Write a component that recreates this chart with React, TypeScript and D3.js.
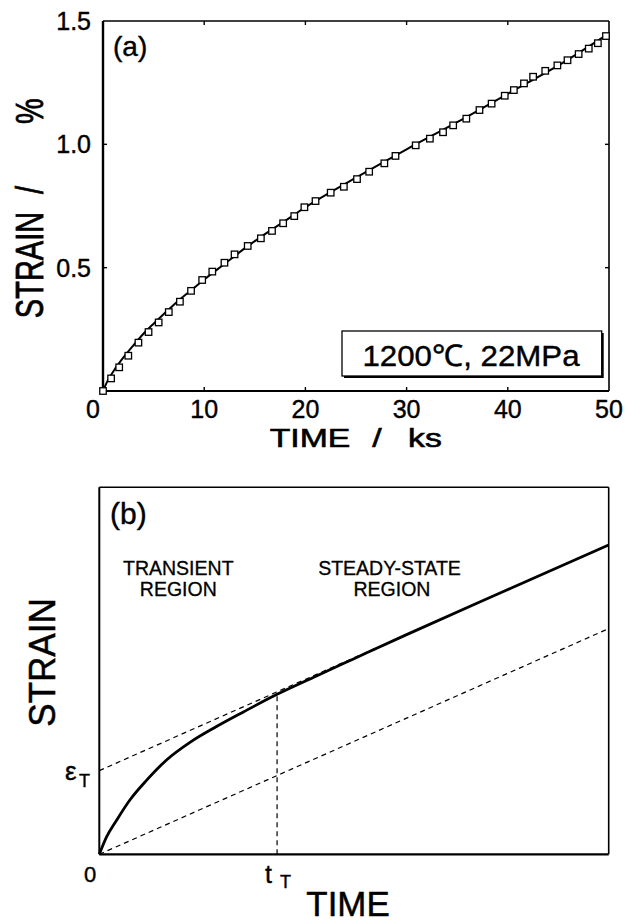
import * as d3 from "d3";

// panel (a) measured creep data, time in ks, strain in %
const timeA = [0, 0.8, 1.6, 2.5, 3.5, 4.5, 5.5, 6.5, 7.6, 8.7, 9.8, 10.8, 12.0, 13.0, 14.3, 15.6, 16.7, 17.8, 18.9, 19.9, 21.0, 22.5, 23.8, 25.1, 26.3, 27.8, 28.9, 30.9, 32.3, 33.6, 34.6, 35.9, 37.2, 38.4, 39.7, 40.6, 41.6, 42.5, 43.7, 44.9, 45.9, 47.0, 48.0, 48.9, 49.7];
const strainA = [0, 0.051, 0.096, 0.143, 0.196, 0.239, 0.278, 0.32, 0.362, 0.406, 0.45, 0.484, 0.52, 0.554, 0.588, 0.619, 0.649, 0.68, 0.709, 0.745, 0.77, 0.804, 0.828, 0.859, 0.889, 0.923, 0.953, 0.996, 1.023, 1.049, 1.077, 1.104, 1.139, 1.165, 1.197, 1.22, 1.247, 1.274, 1.298, 1.32, 1.341, 1.366, 1.388, 1.41, 1.439];

// panel (a) fitted curve
const fitT = [0, 0.5, 1, 2, 3, 4, 5, 6, 7, 8, 9, 10, 12, 14, 16, 18, 20, 25, 30, 35, 40, 45, 50];
const fitS = [0, 0.045, 0.078, 0.135, 0.185, 0.232, 0.273, 0.312, 0.35, 0.385, 0.418, 0.452, 0.515, 0.578, 0.636, 0.69, 0.745, 0.865, 0.98, 1.09, 1.205, 1.32, 1.45];

const xTicksA = [0, 10, 20, 30, 40, 50];
const yTicksA = [0.5, 1.0, 1.5];

// panel (b) schematic, arbitrary units
const curveBT = [0, 0.0145, 0.034, 0.06, 0.093, 0.132, 0.178, 0.23, 0.283, 0.349, 0.42, 0.5, 0.6, 0.8, 1.0];
const curveBS = [0, 0.048, 0.093, 0.148, 0.202, 0.257, 0.305, 0.348, 0.388, 0.436, 0.482, 0.533, 0.5965, 0.72, 0.843];
const epsT = 0.228;
const rateSS = 0.615;
const tT = 0.349;

const font = "'Liberation Sans', Arial, Helvetica, sans-serif";

export default function App() {
  const W = 636, H = 924;

  // (a) scales
  const xa = d3.scaleLinear([0, 50], [103, 609]);
  const ya = d3.scaleLinear([0, 1.5], [391, 21]);
  const lineA = d3.line<number>((d, i) => xa(fitT[i]), (d) => ya(d)).curve(d3.curveMonotoneX);

  // (b) scales
  const xb = d3.scaleLinear([0, 1], [99.3, 608.7]);
  const yb = d3.scaleLinear([0, 1], [854.3, 487.3]);
  const lineB = d3.line<number>((d, i) => xb(curveBT[i]), (d) => yb(d)).curve(d3.curveMonotoneX);
  const upperEnd = 0.55;
  const yAtT = curveBS[curveBT.indexOf(tT)];

  const sq = 6.5;

  return (
    <svg width={W} height={H} style={{ position: "absolute", left: 0, top: 0, background: "#fff" }} fontFamily={font}>
      {/* ---------- panel (a) ---------- */}
      <g stroke="#000" fill="none">
        <line x1={xa(0)} x2={xa(50)} y1={ya(1.5)} y2={ya(1.5)} strokeWidth={1.6} />
        <line x1={xa(50)} x2={xa(50)} y1={ya(1.5)} y2={ya(0)} strokeWidth={1.6} />
        <line x1={xa(0)} x2={xa(50)} y1={ya(0)} y2={ya(0)} strokeWidth={2.2} />
        <line x1={xa(0)} x2={xa(0)} y1={ya(1.5)} y2={ya(0)} strokeWidth={2.4} />
        {xTicksA.slice(1, -1).map((t) => (
          <g key={t}>
            <line x1={xa(t)} x2={xa(t)} y1={ya(0)} y2={ya(0) - 4} strokeWidth={1.4} />
            <line x1={xa(t)} x2={xa(t)} y1={ya(1.5)} y2={ya(1.5) + 4} strokeWidth={1.4} />
          </g>
        ))}
        {yTicksA.slice(0, -1).map((v) => (
          <g key={v}>
            <line x1={xa(0)} x2={xa(0) + 4} y1={ya(v)} y2={ya(v)} strokeWidth={1.4} />
            <line x1={xa(50)} x2={xa(50) - 4} y1={ya(v)} y2={ya(v)} strokeWidth={1.4} />
          </g>
        ))}
      </g>
      <path d={lineA(fitS) ?? ""} fill="none" stroke="#000" strokeWidth={2} />
      <g fill="#fff" stroke="#000" strokeWidth={1.3}>
        {timeA.map((t, i) => (
          <rect key={i} x={xa(t) - sq / 2} y={ya(strainA[i]) - sq / 2} width={sq} height={sq} />
        ))}
      </g>

      <g fill="#000" stroke="#000" strokeWidth={0.4}>
        {/* tick labels */}
        <g fontSize={25}>
          {xTicksA.map((t) => (
            <text key={t} x={t === 0 ? xa(t) - 10 : xa(t)} y={418} textAnchor="middle">{t}</text>
          ))}
          {yTicksA.map((v) => (
            <text key={v} x={91} y={ya(v) + 9} textAnchor="end">{v.toFixed(1)}</text>
          ))}
        </g>
        <text x={113} y={56} fontSize={28}>(a)</text>
      </g>
      {/* legend box */}
      <rect x={344} y={333} width={259.7} height={45} fill="#000" />
      <rect x={342} y={331} width={259.7} height={45} fill="#fff" stroke="#000" strokeWidth={1.3} />
      <text x={471} y={366} fontSize={30} textAnchor="middle" textLength={217} lengthAdjust="spacingAndGlyphs" stroke="#000" strokeWidth={0.4}>1200℃, 22MPa</text>
      {/* axis titles (a) */}
      <g fontSize={26} textAnchor="middle" stroke="#000" strokeWidth={0.6}>
        <text transform="translate(310,447) scale(1.3,1)">TIME</text>
        <text transform="translate(377,447) scale(1.3,1)">/</text>
        <text transform="translate(425,447) scale(1.3,1)">ks</text>
      </g>
      <g fontSize={29} textAnchor="middle" stroke="#000" strokeWidth={0.6}>
        <text transform="translate(43,265) rotate(-90) scale(1,1.35)">STRAIN</text>
        <text transform="translate(43,190) rotate(-90) scale(1,1.35)">/</text>
        <text transform="translate(43,111) rotate(-90) scale(1,1.35)">%</text>
      </g>

      {/* ---------- panel (b) ---------- */}
      <g stroke="#000" fill="none">
        <line x1={xb(0)} x2={xb(1)} y1={yb(1)} y2={yb(1)} strokeWidth={1.6} />
        <line x1={xb(1)} x2={xb(1)} y1={yb(1)} y2={yb(0)} strokeWidth={1.6} />
        <line x1={xb(0)} x2={xb(1)} y1={yb(0)} y2={yb(0)} strokeWidth={2.2} />
        <line x1={xb(0)} x2={xb(0)} y1={yb(1)} y2={yb(0)} strokeWidth={2} />
      </g>
      <g stroke="#000" strokeWidth={1.2} strokeDasharray="5,4" fill="none">
        <line x1={xb(0)} y1={yb(epsT)} x2={xb(upperEnd)} y2={yb(epsT + rateSS * upperEnd)} />
        <line x1={xb(0)} y1={yb(0)} x2={xb(1)} y2={yb(rateSS)} />
        <line x1={xb(tT)} y1={yb(0)} x2={xb(tT)} y2={yb(yAtT)} />
      </g>
      <path d={lineB(curveBS) ?? ""} fill="none" stroke="#000" strokeWidth={2.8} />
      <g fill="#000" stroke="#000" strokeWidth={0.4}>
        <text x={110} y={523.7} fontSize={30}>(b)</text>
        <g fontSize={19.5} textAnchor="middle" strokeWidth={0.3}>
          <text x={178.3} y={575}>TRANSIENT</text>
          <text x={178.3} y={596}>REGION</text>
          <text x={389.5} y={575}>STEADY-STATE</text>
          <text x={392} y={596}>REGION</text>
        </g>
        <text x={65} y={780} fontSize={26}>ε</text>
        <text x={79} y={787} fontSize={18}>T</text>
        <text x={265} y={883} fontSize={25}>t</text>
        <text x={280} y={888} fontSize={18}>T</text>
        <text x={90} y={881.5} fontSize={22} textAnchor="middle">0</text>
      </g>
      <text transform="translate(55,662.5) rotate(-90) scale(1,1.07)" fontSize={35} textAnchor="middle" stroke="#000" strokeWidth={0.5}>STRAIN</text>
      <text transform="translate(348,916) scale(0.97,1)" fontSize={36} textAnchor="middle" stroke="#000" strokeWidth={0.5}>TIME</text>
    </svg>
  );
}
